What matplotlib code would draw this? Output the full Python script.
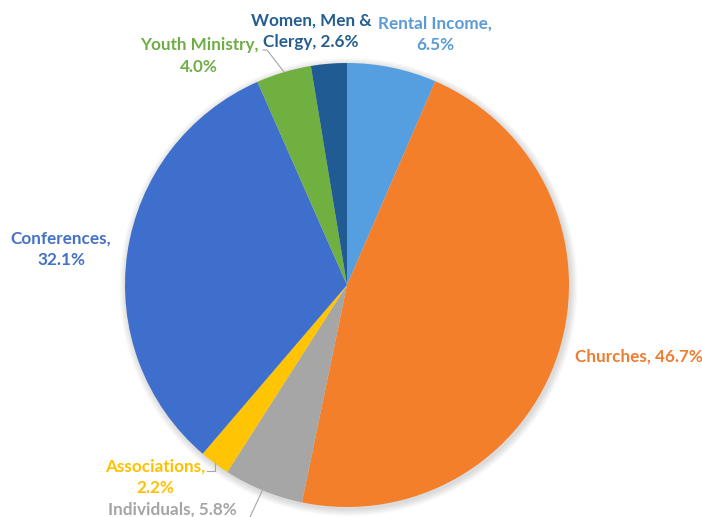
import matplotlib.pyplot as plt
from matplotlib.patches import Circle

# data
categories = ["Rental Income", "Churches", "Individuals", "Associations",
              "Conferences", "Youth Ministry", "Women, Men &\nClergy"]
shares = [6.5, 46.7, 5.8, 2.2, 32.1, 4.0, 2.6]
colors = ["#559EE0", "#F47F2A", "#A6A6A6", "#FFC404",
          "#3E6FCC", "#6FB040", "#215B94"]
label_text = ["Rental Income,\n6.5%", "Churches, 46.7%", "Individuals, 5.8%",
              "Associations,\n2.2%", "Conferences,\n32.1%", "Youth Ministry,\n4.0%",
              "Women, Men &\nClergy, 2.6%"]
label_colors = ["#5B9BD5", "#ED7D31", "#A5A5A5", "#FFC000",
                "#4472C4", "#70AD47", "#255E91"]

W, H = 702, 517
fig = plt.figure(figsize=(W / 100, H / 100), dpi=100)
ax = fig.add_axes([0, 0, 1, 1])

cx, cy, r = 347, H - 285, 222

# soft shadow under the pie
for i in range(6):
    ax.add_patch(Circle((cx + 1.5, cy - 2), r + 1 + i * 1.2, color="black",
                        alpha=0.025, lw=0, zorder=0))

ax.pie(shares, colors=colors, startangle=90, counterclock=False,
       center=(cx, cy), radius=r, frame=True,
       wedgeprops=dict(linewidth=0))
ax.set_xlim(0, W)
ax.set_ylim(0, H)
ax.set_aspect("equal")
ax.axis("off")

# label placement (pixel coords from top-left)
label_pos = [(435, 34), (639, 357), (172, 510), (155, 477),
             (61, 249), (199, 56), (311, 31)]
for txt, c, (x, y) in zip(label_text, label_colors, label_pos):
    ax.text(x, H - y, txt, color=c, fontsize=12.3, fontweight="bold",
            family="Lato", ha="center", va="center", linespacing=1.45)

# leader lines
lc = "#A6A6A6"
ax.plot([263, 267, 284], [H - 50, H - 50, H - 72], color=lc, lw=0.8)
ax.plot([207, 215, 215], [H - 471, H - 471, H - 463], color=lc, lw=0.8)
ax.plot([263, 250], [H - 489, H - 517], color=lc, lw=0.8)

fig.savefig("out.png", dpi=100)
